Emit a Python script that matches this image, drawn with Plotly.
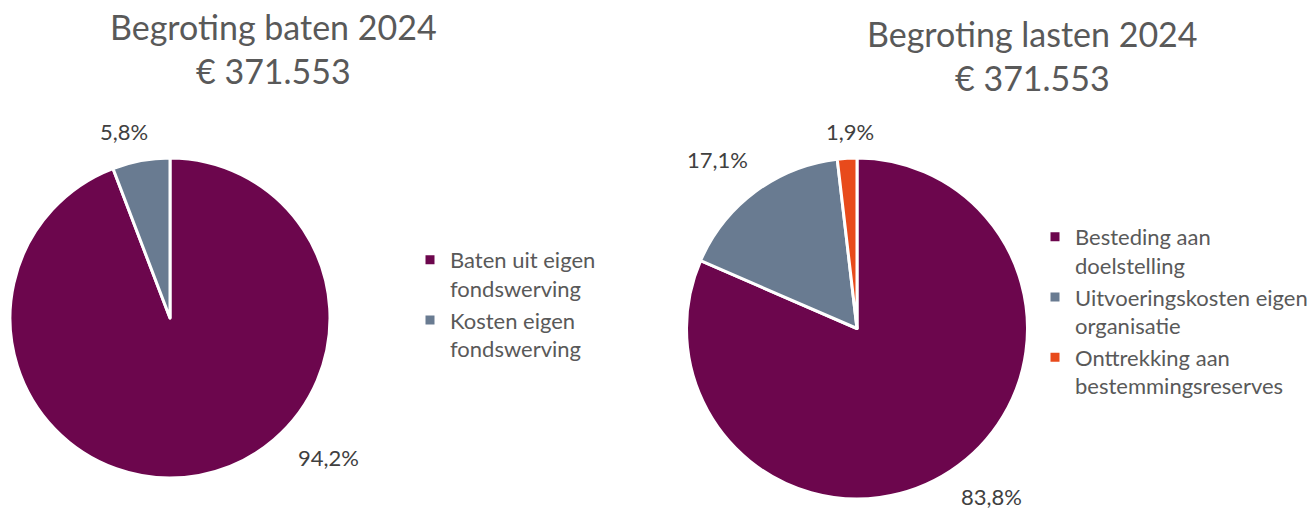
import plotly.graph_objects as go

# ---------------- data ----------------
baten_title = ["Begroting baten 2024", "€ 371.553"]
baten_labels = ["Baten uit eigen<br>fondswerving", "Kosten eigen<br>fondswerving"]
baten_values = [94.2, 5.8]

lasten_title = ["Begroting lasten 2024", "€ 371.553"]
lasten_labels = ["Besteding aan<br>doelstelling", "Uitvoeringskosten eigen<br>organisatie",
                 "Onttrekking aan<br>bestemmingsreserves"]
lasten_values = [83.8, 17.1, 1.9]

# ---------------- styles ----------------
W, H = 1315, 510
FONT = "Lato"
PURPLE = "#6C064D"
SLATE = "#697B91"
ORANGE = "#E84A1B"
TITLE_COLOR = "#595959"
LABEL_COLOR = "#404040"
LEGEND_COLOR = "#595959"


def px(x):
    return x / W


def py(y):
    return 1 - y / H


def pct(v):
    return f"{v:.1f}".replace(".", ",") + "%"


fig = go.Figure()

fig.add_trace(go.Pie(
    labels=baten_labels, values=baten_values, sort=False,
    direction="clockwise", rotation=0, textinfo="none", hoverinfo="label+percent",
    marker=dict(colors=[PURPLE, SLATE], line=dict(color="white", width=3)),
    domain=dict(x=[px(10), px(330)], y=[py(478), py(158)]),
    legend="legend",
))
fig.add_trace(go.Pie(
    labels=lasten_labels, values=lasten_values, sort=False,
    direction="clockwise", rotation=0, textinfo="none", hoverinfo="label+percent",
    marker=dict(colors=[PURPLE, SLATE, ORANGE], line=dict(color="white", width=3)),
    domain=dict(x=[px(686), px(1028)], y=[py(499), py(158)]),
    legend="legend2",
))

annotations = []
# titles
for line, (cx, cy) in zip(baten_title, [(273, 26), (273, 71)]):
    annotations.append(dict(text=line, x=px(cx), y=py(cy), xref="paper", yref="paper",
                            showarrow=False, xanchor="center", yanchor="middle",
                            font=dict(family=FONT, size=34, color=TITLE_COLOR)))
for line, (cx, cy) in zip(lasten_title, [(1032, 34), (1032, 77)]):
    annotations.append(dict(text=line, x=px(cx), y=py(cy), xref="paper", yref="paper",
                            showarrow=False, xanchor="center", yanchor="middle",
                            font=dict(family=FONT, size=34, color=TITLE_COLOR)))

# percentage labels (positions are layout, texts come from the values)
baten_label_pos = [(328, 457), (124, 132)]
lasten_label_pos = [(991, 496), (717, 159), (850, 131)]
for v, (cx, cy) in zip(baten_values, baten_label_pos):
    annotations.append(dict(text=pct(v), x=px(cx), y=py(cy), xref="paper", yref="paper",
                            showarrow=False, xanchor="center", yanchor="middle",
                            font=dict(family=FONT, size=22, color=LABEL_COLOR)))
for v, (cx, cy) in zip(lasten_values, lasten_label_pos):
    annotations.append(dict(text=pct(v), x=px(cx), y=py(cy), xref="paper", yref="paper",
                            showarrow=False, xanchor="center", yanchor="middle",
                            font=dict(family=FONT, size=22, color=LABEL_COLOR)))

legend_style = dict(font=dict(family=FONT, size=22, color=LEGEND_COLOR), valign="top",
                    bgcolor="rgba(0,0,0,0)", borderwidth=0, xanchor="left", yanchor="top",
                    orientation="v", itemclick=False, itemdoubleclick=False)

fig.update_layout(
    width=W, height=H,
    margin=dict(l=0, r=0, t=0, b=0),
    paper_bgcolor="white", plot_bgcolor="white",
    showlegend=True,
    legend=dict(x=px(410), y=py(239), **legend_style),
    legend2=dict(x=px(1035), y=py(216), **legend_style),
    annotations=annotations,
)

fig.write_html("out.html", config={"displayModeBar": False},
               post_script="document.body.style.margin='0px';")
